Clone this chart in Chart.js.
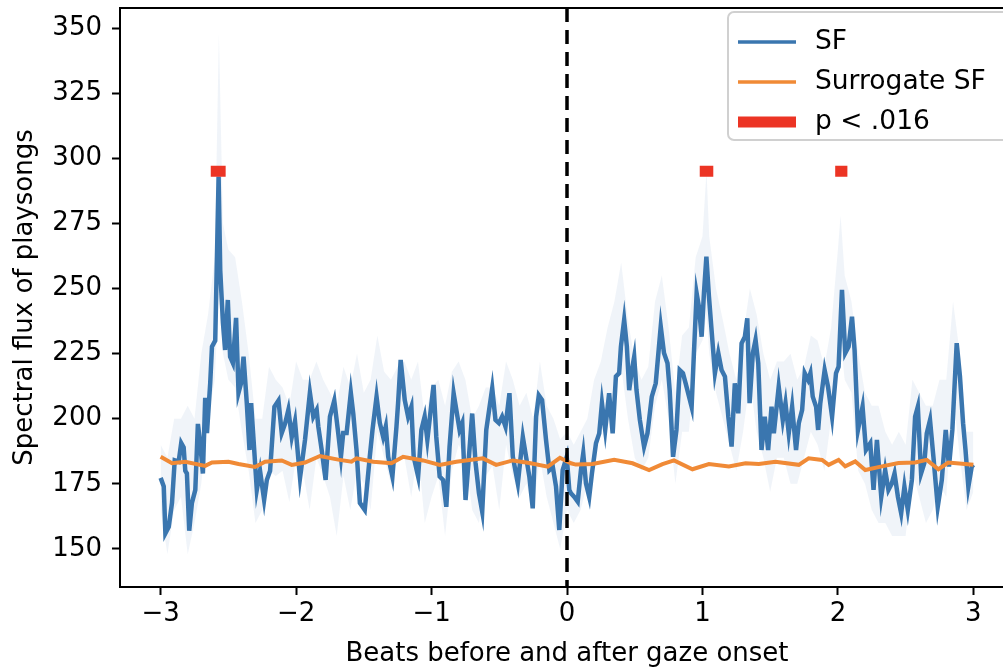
<!DOCTYPE html>
<html>
<head>
<meta charset="utf-8">
<script src="https://cdn.jsdelivr.net/npm/chart.js@4.4.0/dist/chart.umd.min.js"></script>
<style>
  html, body { margin: 0; padding: 0; overflow: hidden; background: #fff; }
  #wrap { width: 1020px; height: 668px; }
</style>
</head>
<body>
<div id="wrap"><canvas id="fluxChart" width="1020" height="668"></canvas></div>
<script>
// spectral flux (SF)
const sfBeats = [
  -3.000, -2.977, -2.965, -2.940, -2.916, -2.896, -2.867, -2.848, -2.830, -2.818,
  -2.806, -2.789, -2.769, -2.744, -2.725, -2.708, -2.688, -2.671, -2.658, -2.634,
  -2.621, -2.597, -2.572, -2.560, -2.540, -2.524, -2.504, -2.487, -2.467, -2.443,
  -2.425, -2.406, -2.388, -2.364, -2.344, -2.332, -2.314, -2.290, -2.266, -2.236,
  -2.216, -2.192, -2.160, -2.130, -2.106, -2.082, -2.057, -2.032, -2.008, -1.971,
  -1.934, -1.898, -1.873, -1.848, -1.836, -1.811, -1.782, -1.750, -1.718, -1.689,
  -1.669, -1.652, -1.627, -1.596, -1.578, -1.554, -1.529, -1.493, -1.456, -1.436,
  -1.406, -1.382, -1.357, -1.338, -1.320, -1.289, -1.259, -1.247, -1.228, -1.198,
  -1.173, -1.149, -1.132, -1.099, -1.075, -1.051, -1.031, -1.009, -0.985, -0.965,
  -0.940, -0.915, -0.891, -0.867, -0.837, -0.817, -0.793, -0.773, -0.749, -0.724,
  -0.700, -0.675, -0.650, -0.626, -0.596, -0.552, -0.528, -0.503, -0.479, -0.454,
  -0.425, -0.400, -0.363, -0.326, -0.302, -0.278, -0.253, -0.228, -0.208, -0.184,
  -0.155, -0.130, -0.105, -0.081, -0.057, -0.032, -0.002, 0.017, 0.029, 0.054,
  0.079, 0.103, 0.120, 0.140, 0.164, 0.184, 0.214, 0.238, 0.258, 0.282,
  0.311, 0.337, 0.361, 0.385, 0.398, 0.422, 0.442, 0.459, 0.479, 0.496,
  0.513, 0.538, 0.569, 0.594, 0.626, 0.655, 0.692, 0.716, 0.742, 0.758,
  0.783, 0.808, 0.832, 0.856, 0.876, 0.901, 0.920, 0.937, 0.957, 0.974,
  0.994, 1.011, 1.029, 1.048, 1.073, 1.092, 1.117, 1.141, 1.166, 1.191,
  1.215, 1.239, 1.264, 1.289, 1.313, 1.331, 1.348, 1.372, 1.392, 1.412,
  1.436, 1.460, 1.485, 1.510, 1.527, 1.563, 1.593, 1.613, 1.637, 1.662,
  1.691, 1.711, 1.736, 1.755, 1.780, 1.797, 1.814, 1.839, 1.854, 1.870,
  1.902, 1.927, 1.957, 1.986, 2.005, 2.030, 2.054, 2.079, 2.104, 2.123,
  2.148, 2.182, 2.207, 2.239, 2.263, 2.288, 2.320, 2.349, 2.373, 2.398,
  2.418, 2.443, 2.467, 2.491, 2.516, 2.546, 2.570, 2.590, 2.614, 2.638,
  2.656, 2.680, 2.705, 2.737, 2.767, 2.796, 2.820, 2.845, 2.877, 2.901,
  2.924, 2.942, 2.963, 2.988, 3.000
];
const sfValues = [
  177.3, 174.0, 156.0, 158.5, 167.7, 184.0, 183.5, 190.7, 189.0, 180.0,
  179.0, 157.0, 167.7, 172.7, 198.0, 190.7, 179.0, 208.0, 194.5, 213.7,
  227.7, 230.0, 293.0, 257.0, 236.8, 226.4, 245.6, 223.8, 221.4, 238.7,
  210.0, 213.7, 223.8, 206.0, 188.0, 206.0, 191.9, 172.7, 180.0, 168.8,
  176.5, 180.0, 204.6, 207.0, 194.5, 198.0, 203.4, 193.0, 199.0, 177.3,
  191.9, 210.0, 200.8, 203.4, 197.0, 188.0, 176.5, 200.8, 207.0, 194.5,
  185.4, 194.5, 194.5, 210.0, 202.0, 188.0, 167.7, 165.0, 185.4, 195.7,
  208.5, 198.4, 193.0, 197.0, 185.4, 177.8, 197.0, 206.0, 222.6, 207.2,
  200.8, 204.6, 185.4, 177.8, 195.7, 200.8, 191.9, 202.0, 213.0, 193.0,
  177.8, 176.5, 166.2, 189.3, 209.8, 203.4, 195.7, 198.4, 168.8, 185.4,
  202.0, 183.0, 171.4, 164.3, 195.7, 211.7, 199.5, 198.3, 200.8, 197.0,
  209.8, 185.4, 175.2, 193.0, 185.4, 177.8, 165.6, 200.8, 209.0, 207.2,
  191.9, 180.3, 181.6, 173.9, 157.3, 180.3, 185.4, 172.7, 171.4, 170.0,
  168.2, 180.3, 186.7, 175.2, 170.0, 179.0, 190.6, 194.4, 206.0, 195.7,
  209.8, 194.4, 216.2, 217.5, 227.7, 238.0, 227.7, 211.0, 218.7, 223.8,
  211.0, 199.5, 189.3, 194.4, 208.5, 213.6, 235.4, 225.2, 221.3, 211.0,
  185.4, 195.7, 218.7, 217.5, 213.6, 208.5, 204.6, 225.2, 248.2, 243.0,
  231.5, 248.2, 262.2, 246.9, 230.3, 217.5, 225.2, 218.7, 216.2, 200.8,
  189.3, 213.6, 202.1, 229.0, 231.5, 238.6, 206.0, 225.2, 230.3, 221.3,
  188.0, 200.8, 188.0, 204.6, 194.4, 212.3, 199.5, 206.0, 194.4, 204.6,
  188.0, 198.3, 203.4, 217.5, 214.9, 217.5, 208.5, 204.6, 195.7, 206.0,
  218.7, 212.3, 200.8, 217.5, 220.0, 249.5, 225.2, 227.7, 239.2, 226.4,
  195.7, 204.6, 188.0, 190.6, 172.7, 191.9, 170.0, 180.3, 172.7, 175.2,
  179.0, 170.0, 163.7, 173.9, 165.0, 176.5, 200.8, 204.6, 179.0, 183.0,
  194.4, 199.5, 185.4, 166.2, 176.5, 195.7, 181.6, 195.7, 229.0, 216.2,
  198.3, 188.0, 173.9, 181.6, 182.3
];

// shaded spread around SF
const bandBeats = [
  -3.00, -2.95, -2.90, -2.85, -2.80, -2.75, -2.70, -2.65, -2.60, -2.57, -2.54, -2.50, -2.45, -2.40, -2.35,
  -2.30, -2.25, -2.20, -2.15, -2.10, -2.05, -2.00, -1.95, -1.90, -1.85, -1.80, -1.75, -1.70, -1.65, -1.60,
  -1.55, -1.50, -1.45, -1.40, -1.35, -1.30, -1.25, -1.20, -1.15, -1.10, -1.05, -1.00, -0.95, -0.90, -0.85,
  -0.80, -0.75, -0.70, -0.65, -0.60, -0.55, -0.50, -0.45, -0.40, -0.35, -0.30, -0.25, -0.20, -0.15, -0.10,
  -0.05, 0.00, 0.05, 0.10, 0.15, 0.20, 0.25, 0.30, 0.35, 0.40, 0.45, 0.50, 0.55, 0.60, 0.65,
  0.70, 0.75, 0.80, 0.85, 0.90, 0.95, 1.00, 1.03, 1.05, 1.10, 1.15, 1.20, 1.25, 1.30, 1.35,
  1.40, 1.45, 1.50, 1.55, 1.60, 1.65, 1.70, 1.75, 1.80, 1.85, 1.90, 1.95, 2.00, 2.02, 2.05,
  2.10, 2.15, 2.20, 2.25, 2.30, 2.35, 2.40, 2.45, 2.50, 2.55, 2.60, 2.65, 2.70, 2.75, 2.80,
  2.85, 2.90, 2.95, 3.00
];
const bandUpper = [
  190, 185, 200, 200, 205, 200, 225, 240, 262, 348, 275, 265, 262, 245, 225,
  200, 200, 220, 215, 212, 205, 222, 215, 215, 222, 215, 210, 205, 220, 212,
  225, 210, 215, 232, 218, 215, 220, 222, 215, 222, 200, 212, 215, 205, 218,
  222, 215, 200, 205, 212, 212, 205, 222, 215, 205, 210, 200, 222, 205, 200,
  192, 195, 190, 195, 200, 215, 222, 235, 245, 260, 238, 222, 215, 220, 245,
  255, 235, 210, 232, 235, 262, 270, 295, 270, 250, 238, 225, 215, 232, 250,
  240, 225, 215, 222, 222, 225, 215, 220, 232, 230, 220, 235, 265, 278, 255,
  245, 225, 210, 205, 205, 195, 190, 195, 190, 215, 210, 205, 205, 215, 215,
  245, 225, 195, 195
];
const bandLower = [
  165, 148, 165, 170, 148, 160, 175, 200, 215, 250, 225, 215, 212, 195, 180,
  160, 165, 180, 178, 180, 168, 185, 180, 165, 185, 178, 170, 155, 178, 165,
  180, 175, 165, 195, 185, 175, 185, 185, 170, 188, 160, 170, 178, 155, 180,
  190, 185, 165, 160, 178, 182, 165, 190, 178, 170, 175, 165, 185, 170, 160,
  150, 165, 160, 165, 175, 185, 195, 200, 210, 220, 200, 185, 180, 185, 205,
  215, 200, 175, 195, 195, 225, 230, 240, 225, 210, 200, 190, 180, 195, 215,
  195, 185, 172, 185, 185, 175, 175, 185, 195, 190, 180, 200, 225, 230, 215,
  210, 180, 175, 165, 160, 160, 155, 155, 155, 180, 170, 160, 165, 175, 170,
  210, 185, 165, 172
];

// surrogate SF
const surBeats = [
  -3.000, -2.916, -2.818, -2.671, -2.621, -2.499, -2.425, -2.303, -2.229, -2.106,
  -2.032, -1.934, -1.824, -1.689, -1.591, -1.554, -1.431, -1.296, -1.210, -1.063,
  -0.940, -0.817, -0.621, -0.523, -0.400, -0.278, -0.142, -0.052, 0.029, 0.066,
  0.189, 0.348, 0.484, 0.606, 0.705, 0.790, 0.926, 1.048, 1.195, 1.318,
  1.416, 1.539, 1.711, 1.784, 1.883, 1.932, 2.005, 2.054, 2.128, 2.202,
  2.325, 2.447, 2.570, 2.656, 2.742, 2.815, 3.000
];
const surValues = [
  185.4, 182.9, 183.5, 181.9, 183.2, 183.5, 182.6, 181.5, 183.5, 184.0,
  182.3, 183.2, 185.7, 184.3, 183.5, 184.8, 183.5, 182.9, 185.4, 184.0,
  182.3, 183.5, 184.8, 182.3, 184.0, 183.0, 181.6, 185.0, 182.9, 182.4,
  182.6, 184.2, 182.9, 180.3, 182.6, 184.0, 180.6, 182.6, 181.7, 182.9,
  182.6, 183.5, 182.3, 184.8, 184.2, 182.3, 184.2, 181.7, 183.6, 180.3,
  181.7, 183.0, 183.2, 184.2, 180.6, 183.2, 182.3
];

// significant windows (p < .016)
const sigStart = [-2.63, 0.98, 1.98];
const sigEnd = [-2.52, 1.08, 2.07];
const sigLevel = 295;

const xTicks = [-3, -2, -1, 0, 1, 2, 3];
const yTicks = [150, 175, 200, 225, 250, 275, 300, 325, 350];

const BLUE = '#3a76af';
const ORANGE = '#f08a36';
const RED = '#ec3424';

const toPoints = (xs, ys) => xs.map((x, i) => ({ x: x, y: ys[i] }));

const sigPoints = [];
sigStart.forEach((s, i) => {
    sigPoints.push({ x: s, y: sigLevel });
    sigPoints.push({ x: sigEnd[i], y: sigLevel });
    sigPoints.push({ x: sigEnd[i], y: null });
});

Chart.defaults.font.family = '"DejaVu Sans", sans-serif';
Chart.defaults.font.size = 26;
Chart.defaults.color = '#000';

// dashed onset line and full axes box
const framePlugin = {
    id: 'frame',
    afterDatasetsDraw(chart) {
        const { ctx, chartArea, scales } = chart;
        const x0 = scales.x.getPixelForValue(0);
        ctx.save();
        ctx.strokeStyle = '#000';
        ctx.lineWidth = 3.5;
        ctx.setLineDash([14, 8]);
        ctx.beginPath();
        ctx.moveTo(x0, chartArea.top);
        ctx.lineTo(x0, chartArea.bottom);
        ctx.stroke();
        ctx.setLineDash([]);
        ctx.lineWidth = 2;
        ctx.strokeRect(chartArea.left, chartArea.top, chartArea.right - chartArea.left, chartArea.bottom - chartArea.top);
        ctx.restore();
    }
};

// legend box in the upper right corner
const boxLegend = {
    id: 'boxLegend',
    afterDraw(chart) {
        const ctx = chart.ctx;
        const items = chart.data.datasets.filter(d => d.inLegend);
        const left = 728, top = 12, w = 290, h = 128, r = 6;
        ctx.save();
        ctx.beginPath();
        ctx.moveTo(left + r, top);
        ctx.lineTo(left + w - r, top);
        ctx.arcTo(left + w, top, left + w, top + r, r);
        ctx.lineTo(left + w, top + h - r);
        ctx.arcTo(left + w, top + h, left + w - r, top + h, r);
        ctx.lineTo(left + r, top + h);
        ctx.arcTo(left, top + h, left, top + h - r, r);
        ctx.lineTo(left, top + r);
        ctx.arcTo(left, top, left + r, top, r);
        ctx.closePath();
        ctx.fillStyle = 'rgba(255,255,255,0.85)';
        ctx.fill();
        ctx.strokeStyle = '#d0d0d0';
        ctx.lineWidth = 2;
        ctx.stroke();

        ctx.font = '26.5px "DejaVu Sans"';
        ctx.textBaseline = 'middle';
        ctx.fillStyle = '#000';
        items.forEach((d, i) => {
            const y = 42 + i * 40;
            ctx.strokeStyle = d.borderColor;
            ctx.lineWidth = d.legendWidth;
            ctx.lineCap = 'butt';
            ctx.beginPath();
            ctx.moveTo(738, y);
            ctx.lineTo(796, y);
            ctx.stroke();
            ctx.fillText(d.label, 815, y);
        });
        ctx.restore();
    }
};

// keep the plot box where the figure has it, ignoring label overhang
const noOverhang = scale => {
    scale.paddingTop = 0;
    scale.paddingBottom = 0;
    scale.paddingLeft = 0;
    scale.paddingRight = 0;
};

new Chart(document.getElementById('fluxChart'), {
    type: 'line',
    data: {
        datasets: [
            {
                label: 'SF', data: toPoints(sfBeats, sfValues), borderColor: BLUE,
                borderWidth: 4.5, pointRadius: 0, tension: 0, order: 2, inLegend: true, legendWidth: 3.5
            },
            {
                label: 'Surrogate SF', data: toPoints(surBeats, surValues), borderColor: ORANGE,
                borderWidth: 4, pointRadius: 0, tension: 0, order: 1, inLegend: true, legendWidth: 3.5
            },
            {
                label: 'p < .016', data: sigPoints, borderColor: RED, borderWidth: 11,
                borderCapStyle: 'butt', pointRadius: 0, spanGaps: false, order: 0, inLegend: true, legendWidth: 11
            },
            {
                label: 'upper', data: toPoints(bandBeats, bandUpper), borderWidth: 0, pointRadius: 0,
                backgroundColor: 'rgba(58,118,175,0.08)', fill: '+1', order: 3
            },
            {
                label: 'lower', data: toPoints(bandBeats, bandLower), borderWidth: 0, pointRadius: 0,
                fill: false, order: 4
            }
        ]
    },
    options: {
        responsive: false,
        animation: false,
        devicePixelRatio: 1,
        layout: { padding: { top: 8, right: 6, left: 0, bottom: 0 } },
        plugins: { legend: { display: false }, tooltip: { enabled: false } },
        scales: {
            x: {
                type: 'linear', min: -3.3, max: 3.3,
                afterBuildTicks: scale => { scale.ticks = xTicks.map(v => ({ value: v })); },
                afterFit: scale => { scale.height = 81; noOverhang(scale); },
                ticks: {
                    padding: 4,
                    callback: v => (v < 0 ? '\u2212' + Math.abs(v) : String(v))
                },
                grid: { drawOnChartArea: false, drawTicks: true, tickLength: 8, tickWidth: 2, tickColor: '#000' },
                border: { display: true, color: '#000', width: 2 },
                title: { display: true, text: 'Beats before and after gaze onset', padding: { top: 0, bottom: -2 } }
            },
            y: {
                type: 'linear', min: 135.4, max: 357.7,
                afterBuildTicks: scale => { scale.ticks = yTicks.map(v => ({ value: v })); },
                afterFit: scale => { scale.width = 120; noOverhang(scale); },
                ticks: { padding: 10 },
                grid: { drawOnChartArea: false, drawTicks: true, tickLength: 8, tickWidth: 2, tickColor: '#000' },
                border: { display: true, color: '#000', width: 2 },
                title: { display: true, text: 'Spectral flux of playsongs', padding: { top: 10, bottom: 0 } }
            }
        }
    },
    plugins: [framePlugin, boxLegend]
});
</script>
</body>
</html>
